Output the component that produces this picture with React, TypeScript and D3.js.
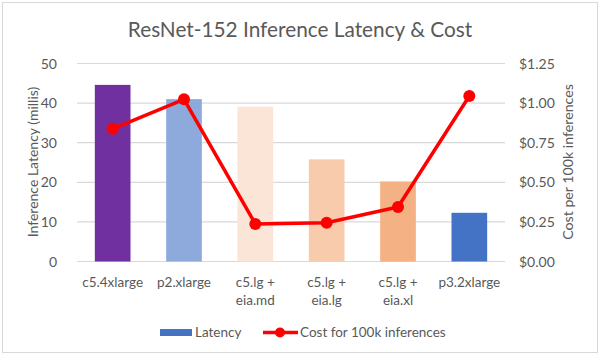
import React from "react";
import * as d3 from "d3";

const categories = ["c5.4xlarge", "p2.xlarge", "c5.lg +\neia.md", "c5.lg +\neia.lg", "c5.lg +\neia.xl", "p3.2xlarge"];
const latency = [44.6, 41.0, 39.1, 25.8, 20.2, 12.3];
const cost = [0.838, 1.024, 0.237, 0.245, 0.344, 1.045];
const barColors = ["#7030A0", "#8EA9DB", "#FBE5D6", "#F8CBAD", "#F4B183", "#4472C4"];
const leftTicks = [0, 10, 20, 30, 40, 50];
const rightTicks = [0, 0.25, 0.5, 0.75, 1.0, 1.25];

const W = 600, H = 355;
const FONT = "Lato, 'Noto Sans', sans-serif";
const TXT = "#595959";

export default function App() {
  const x = d3.scaleBand<string>().domain(categories).range([77, 505]).paddingInner(0.5).paddingOuter(0.25);
  const yL = d3.scaleLinear().domain([0, 50]).range([261.5, 63.5]);
  const yR = d3.scaleLinear().domain([0, 1.25]).range([261.5, 63.5]);
  const line = d3.line<number>().x((_, i) => (x(categories[i]) as number) + x.bandwidth() / 2).y((d) => yR(d));
  const fmt = d3.format("$.2f");
  return (
    <div style={{ position: "absolute", left: 0, top: 0 }}>
      <svg width={W} height={H} style={{ display: "block", fontFamily: FONT }}>
        <rect x={0} y={0} width={W} height={H} fill="#fff" />
        <rect x={2.5} y={2.5} width={W - 5} height={H - 5} fill="none" stroke="#d9d9d9" strokeWidth={1} />
        <text x={300} y={37} textAnchor="middle" fontSize={20.8} fill={TXT}>ResNet-152 Inference Latency &amp; Cost</text>
        {leftTicks.map((t) => (
          <g key={t}>
            <line x1={77} x2={505} y1={yL(t)} y2={yL(t)} stroke="#d9d9d9" strokeWidth={1.2} />
            <text x={57} y={yL(t) + 5} textAnchor="end" fontSize={14} fill={TXT}>{t}</text>
          </g>
        ))}
        {rightTicks.map((t) => (
          <text key={t} x={519} y={yR(t) + 5} textAnchor="start" fontSize={14} fill={TXT}>{fmt(t)}</text>
        ))}
        <text transform="translate(38,162) rotate(-90)" textAnchor="middle" fontSize={14} fill={TXT}>Inference Latency (millis)</text>
        <text transform="translate(573,162) rotate(-90)" textAnchor="middle" fontSize={14.2} fill={TXT}>Cost per 100k inferences</text>
        {categories.map((c, i) => (
          <rect key={c} x={x(c)} y={yL(latency[i])} width={x.bandwidth()} height={yL(0) - yL(latency[i])} fill={barColors[i]} />
        ))}
        {categories.map((c) => {
          const lines = c.split("\n");
          return (
            <text key={c} x={(x(c) as number) + x.bandwidth() / 2} y={287} textAnchor="middle" fontSize={13.5} fill={TXT}>
              {lines.map((l, j) => (
                <tspan key={j} x={(x(c) as number) + x.bandwidth() / 2} dy={j === 0 ? 0 : 18}>{l}</tspan>
              ))}
            </text>
          );
        })}
        <path d={line(cost) || ""} fill="none" stroke="#FF0000" strokeWidth={3.5} strokeLinejoin="round" />
        {cost.map((v, i) => (
          <circle key={i} cx={(x(categories[i]) as number) + x.bandwidth() / 2} cy={yR(v)} r={6} fill="#FF0000" />
        ))}
        <rect x={160} y={329} width={32} height={7} fill="#4472C4" />
        <text x={195} y={337} fontSize={13.5} fill={TXT}>Latency</text>
        <line x1={263} x2={298} y1={332.5} y2={332.5} stroke="#FF0000" strokeWidth={3.5} />
        <circle cx={280} cy={332.5} r={5} fill="#FF0000" />
        <text x={300} y={337} fontSize={13.5} fill={TXT}>Cost for 100k inferences</text>
      </svg>
    </div>
  );
}
